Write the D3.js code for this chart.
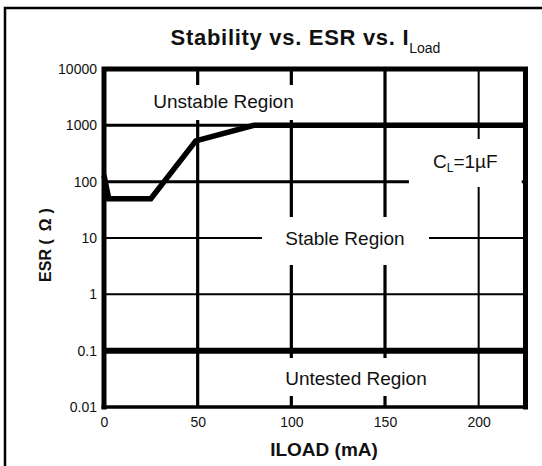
<!DOCTYPE html>
<html>
<head>
<meta charset="utf-8">
<script src="https://cdn.jsdelivr.net/npm/d3@7"></script>
<style>
  body { margin: 0; background: #fff; }
  text { font-family: "Liberation Sans", Arial, sans-serif; fill: #111; }
</style>
</head>
<body>
<script>
// axis ticks
var xTicks = [0, 50, 100, 150, 200];
var yTicks = [0.01, 0.1, 1, 10, 100, 1000, 10000];
var yTickLabels = ["0.01", "0.1", "1", "10", "100", "1000", "10000"];

// grid lines (heavy / light)
var heavyX = [50, 100, 150];
var lightX = [200];
var heavyY = [1000, 100];
var lightY = [10, 1];

// lower ESR limit, below it is untested
var boundary = [[0, 0.1], [225, 0.1]];
// upper ESR limit vs load current (mA, ohm)
var limitCurve = [[0, 130], [2.5, 50], [25, 50], [49, 530], [80, 1000], [225, 1000]];

var width = 542, height = 466;

var svg = d3.select('body').append('svg')
  .attr('width', width)
  .attr('height', height);

var x = d3.scaleLinear().domain([0, 225]).range([104, 525.5]);
var y = d3.scaleLog().domain([0.01, 10000]).range([407, 69]);

// outer frame (only top and left show in the picture)
svg.append('path')
  .attr('d', 'M5,' + height + 'V8H' + width)
  .attr('fill', 'none')
  .attr('stroke', '#000')
  .attr('stroke-width', 2.5);

// grid
var grid = svg.append('g');
grid.selectAll('.vh').data(heavyX).enter().append('line')
  .attr('x1', function(d) { return x(d); })
  .attr('x2', function(d) { return x(d); })
  .attr('y1', y(10000)).attr('y2', y(0.01))
  .attr('stroke', '#000').attr('stroke-width', 3.2);
grid.selectAll('.vl').data(lightX).enter().append('line')
  .attr('x1', function(d) { return x(d); })
  .attr('x2', function(d) { return x(d); })
  .attr('y1', y(10000)).attr('y2', y(0.01))
  .attr('stroke', '#000').attr('stroke-width', 2);
grid.selectAll('.hh').data(heavyY).enter().append('line')
  .attr('x1', x(0)).attr('x2', x(225))
  .attr('y1', function(d) { return y(d); })
  .attr('y2', function(d) { return y(d); })
  .attr('stroke', '#000').attr('stroke-width', 3);
grid.selectAll('.hl').data(lightY).enter().append('line')
  .attr('x1', x(0)).attr('x2', x(225))
  .attr('y1', function(d) { return y(d); })
  .attr('y2', function(d) { return y(d); })
  .attr('stroke', '#000').attr('stroke-width', 2);

// region labels, each with the white gap it cuts in the grid
var regions = [
  { text: "Unstable Region", x: 63.8, y: 2031, gap: [40.6, 103, 5200, 1243] },
  { text: "Stable Region", x: 128.6, y: 7.5, gap: [84.3, 173.5, 23.6, 3.32] },
  { text: "Untested Region", x: 134.5, y: 0.0246, gap: [94, 175, 0.074, 0.0157] }
];
var capGap = [162.8, 223, 572, 80.4];

svg.selectAll('.gap').data(regions.map(function(r) { return r.gap; }).concat([capGap]))
  .enter().append('rect')
  .attr('x', function(d) { return x(d[0]); })
  .attr('width', function(d) { return x(d[1]) - x(d[0]); })
  .attr('y', function(d) { return y(d[2]); })
  .attr('height', function(d) { return y(d[3]) - y(d[2]); })
  .attr('fill', '#fff');

// limits
var line = d3.line()
  .x(function(d) { return x(d[0]); })
  .y(function(d) { return y(d[1]); });

svg.append('path').datum(boundary)
  .attr('d', line)
  .attr('fill', 'none').attr('stroke', '#000').attr('stroke-width', 6);

svg.append('path').datum(limitCurve)
  .attr('d', line)
  .attr('fill', 'none').attr('stroke', '#000').attr('stroke-width', 5.5)
  .attr('stroke-linejoin', 'miter');

// plot border
svg.append('path')
  .attr('d', 'M' + x(0) + ',' + y(0.01) + 'V' + y(10000) + 'H' + x(225) + 'V' + y(0.01))
  .attr('fill', 'none').attr('stroke', '#000').attr('stroke-width', 5)
  .attr('stroke-linecap', 'square');
svg.append('line')
  .attr('x1', x(0) - 2.5).attr('x2', x(225) + 2.5)
  .attr('y1', y(0.01)).attr('y2', y(0.01))
  .attr('stroke', '#000').attr('stroke-width', 3.5);

// axes (labels only)
var xAxis = svg.append('g')
  .attr('transform', 'translate(0,' + y(0.01) + ')')
  .call(d3.axisBottom(x).tickValues(xTicks).tickSize(0).tickPadding(10));
var yAxis = svg.append('g')
  .attr('transform', 'translate(' + x(0) + ',0)')
  .call(d3.axisLeft(y).tickValues(yTicks).tickSize(0).tickPadding(7)
    .tickFormat(function(d, i) { return yTickLabels[i]; }));
[xAxis, yAxis].forEach(function(a) {
  a.select('.domain').remove();
  a.attr('font-family', null).attr('font-size', null);
  a.selectAll('text').style('font-size', '14px').attr('fill', '#111');
});

// region texts
svg.selectAll('.region').data(regions).enter().append('text')
  .attr('x', function(d) { return x(d.x); })
  .attr('y', function(d) { return y(d.y); })
  .attr('text-anchor', 'middle')
  .style('font-size', '19px')
  .text(function(d) { return d.text; });

var cl = svg.append('text')
  .attr('x', x(175.6)).attr('y', y(175))
  .style('font-size', '19px');
cl.append('tspan').text('C');
cl.append('tspan').attr('dy', 4).style('font-size', '12px').text('L');
cl.append('tspan').attr('dy', -4).text('=1µF');

// title
var title = svg.append('text')
  .attr('x', 305.5).attr('y', 45)
  .attr('text-anchor', 'middle');
title.append('tspan')
  .style('font-size', '22px').style('font-weight', 'bold').style('letter-spacing', '0.7px')
  .text('Stability vs. ESR vs. I');
title.append('tspan')
  .attr('dy', 7.5)
  .style('font-size', '14px')
  .text('Load');

// axis titles
svg.append('text')
  .attr('x', 324).attr('y', 456)
  .attr('text-anchor', 'middle')
  .style('font-size', '19px').style('font-weight', 'bold')
  .text('ILOAD (mA)');

var yl = svg.append('text')
  .attr('transform', 'translate(51,245) rotate(-90)')
  .attr('text-anchor', 'middle')
  .style('font-size', '16px').style('font-weight', 'bold');
yl.append('tspan').text('ESR (');
yl.append('tspan').attr('dx', 8).text('Ω');
yl.append('tspan').attr('dx', 5).text(')');
</script>
</body>
</html>
